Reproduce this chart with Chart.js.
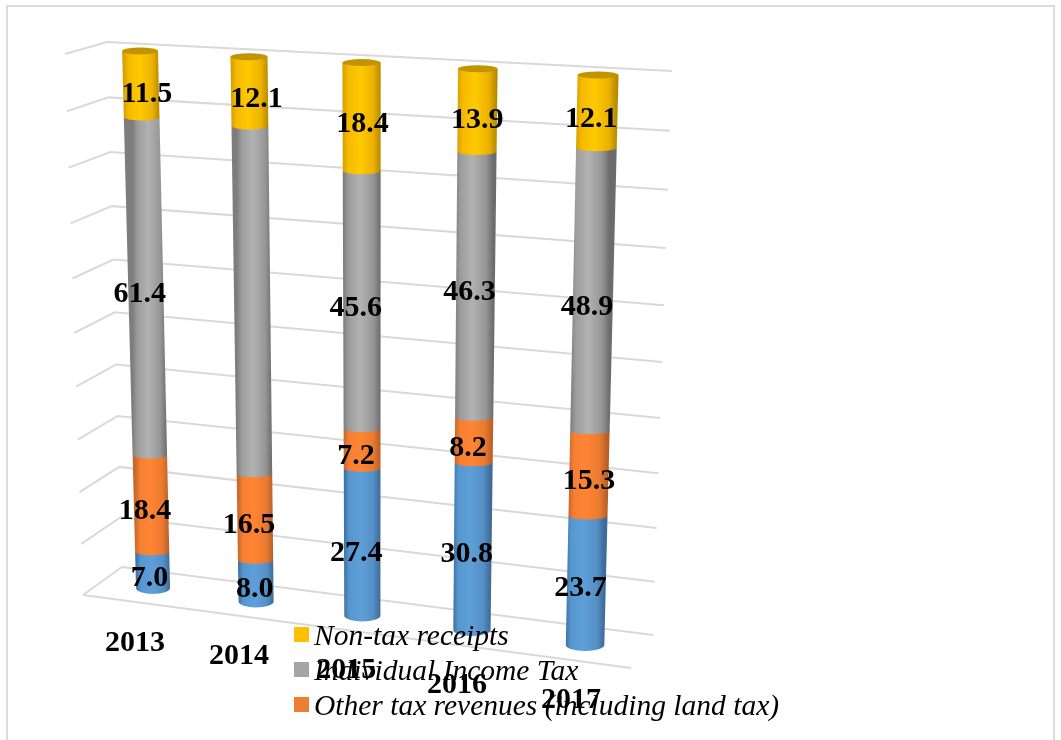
<!DOCTYPE html>
<html lang="en">
<head>
<meta charset="UTF-8" />
<title>Budget revenue structure</title>
<script src="https://cdn.jsdelivr.net/npm/chart.js"></script>
<style>
  * { margin: 0; padding: 0; box-sizing: border-box; }
  html, body { width: 1061px; height: 740px; overflow: hidden; background: #fff; }
  canvas { display: block; }
</style>
</head>
<body>
<canvas id="chart" width="1061" height="740"></canvas>
<script>
const years = ['2013', '2014', '2015', '2016', '2017'];
const otherIncome = [7.0, 8.0, 27.4, 30.8, 23.7];
const otherTax = [18.4, 16.5, 7.2, 8.2, 15.3];
const incomeTax = [61.4, 63.4, 45.6, 46.3, 48.9];
const nonTax = [11.5, 12.1, 18.4, 13.9, 12.1];
const seriesNames = ['Corporate income tax', 'Other tax revenues (including land tax)', 'Individual Income Tax', 'Non-tax receipts'];
const yTicksMax = 100;

const series = [otherIncome, otherTax, incomeTax, nonTax];
const totals = years.map((_, i) => series.reduce((s, a) => s + a[i], 0));

// colours: swatch, then gradient across the cylinder
const swatch = ['#5b9bd5', '#ed7d31', '#a5a5a5', '#ffc000'];
const shades = [
  ['#3f72a3', '#5797d0', '#5f9fd9', '#5590c6', '#3d6c98'],
  ['#c8682a', '#f57f33', '#ff8533', '#ea7a30', '#b55e26'],
  ['#7d7d7d', '#9c9c9c', '#b2b2b2', '#979797', '#6c6c6c'],
  ['#d6a200', '#f5b900', '#ffca00', '#ecb200', '#b58a00']
];
const capColor = '#c29400';
const gridColor = '#d9d9d9';
const serif = '"Liberation Serif", "Times New Roman", serif';

// per label nudge ("series,year"), the rest sit slightly left of the bar
const labelNudge = { '3,0': 6, '3,1': 7, '3,2': 1, '3,3': 0, '1,4': 0, '0,0': -3, '0,1': -1 };
const labelDrop = { '2,4': 10, '3,0': 2, '3,3': 2, '0,2': 3 };
const noLabel = ['2,1'];

// unit square -> quad, corners a(0,0) b(1,0) c(1,1) d(0,1)
function quadMap(a, b, c, d) {
  const dx1 = b[0] - c[0], dx2 = d[0] - c[0], sx = a[0] - b[0] + c[0] - d[0];
  const dy1 = b[1] - c[1], dy2 = d[1] - c[1], sy = a[1] - b[1] + c[1] - d[1];
  const den = dx1 * dy2 - dx2 * dy1;
  const g = (sx * dy2 - dx2 * sy) / den, h = (dx1 * sy - sx * dy1) / den;
  const A = b[0] - a[0] + g * b[0], B = d[0] - a[0] + h * d[0];
  const D = b[1] - a[1] + g * b[1], E = d[1] - a[1] + h * d[1];
  return (u, v) => {
    const w = g * u + h * v + 1;
    return [(A * u + B * v + a[0]) / w, (D * u + E * v + a[1]) / w];
  };
}

const wallPlane = quadMap([122, 567], [653, 635], [672, 71], [107, 42]);
const sidePlane = quadMap([83, 595], [122, 567], [107, 42], [65, 54]);
const barPlane = quadMap([153, 588], [585, 645], [598, 75], [140, 51]);

const perspective = {
  id: 'perspective',
  beforeDraw(chart) {
    const ctx = chart.ctx, y = chart.scales.y, area = chart.chartArea;
    const toV = px => (area.bottom - px) / (area.bottom - area.top);
    const toU = px => (px - area.left) / (area.right - area.left);
    const onBar = (px, py) => barPlane((toU(px) - 0.1) / 0.8, toV(py));

    ctx.save();
    // outer frame, runs off the bottom of the picture
    ctx.strokeStyle = '#dcdcdc';
    ctx.lineWidth = 2;
    ctx.strokeRect(7, 6, 1047, 760);

    // grid lines come from the value axis ticks
    ctx.strokeStyle = gridColor;
    ctx.lineWidth = 2;
    y.ticks.forEach(t => {
      const v = toV(y.getPixelForValue(t.value));
      const p0 = sidePlane(0, v), p1 = wallPlane(0, v), p2 = wallPlane(1, v);
      ctx.beginPath();
      ctx.moveTo(p0[0], p0[1]);
      ctx.lineTo(p1[0], p1[1]);
      ctx.lineTo(p2[0], p2[1]);
      ctx.stroke();
    });
    // front edge of the floor
    ctx.beginPath();
    ctx.moveTo(83, 595);
    ctx.lineTo(631, 668);
    ctx.stroke();

    // cylinders, bottom segment first so the next one covers the joint
    years.forEach((_, i) => {
      series.forEach((_, s) => {
        const el = chart.getDatasetMeta(s).data[i];
        const half = el.width / 2;
        const tl = onBar(el.x - half, el.y), tr = onBar(el.x + half, el.y);
        const bl = onBar(el.x - half, el.base), br = onBar(el.x + half, el.base);
        const tc = [(tl[0] + tr[0]) / 2, (tl[1] + tr[1]) / 2];
        const bc = [(bl[0] + br[0]) / 2, (bl[1] + br[1]) / 2];
        const trx = (tr[0] - tl[0]) / 2, brx = (br[0] - bl[0]) / 2;
        const grad = ctx.createLinearGradient(bc[0] - brx, 0, bc[0] + brx, 0);
        [0, 0.14, 0.45, 0.8, 1].forEach((st, k) => grad.addColorStop(st, shades[s][k]));
        const ry = s === 0 ? 6 : 3.5;
        ctx.fillStyle = grad;
        ctx.beginPath();
        ctx.moveTo(tc[0] + trx, tc[1]);
        ctx.lineTo(tc[0] - trx, tc[1]);
        ctx.lineTo(bc[0] - brx, bc[1]);
        ctx.ellipse(bc[0], bc[1], brx, ry, 0, Math.PI, 0, true);
        ctx.closePath();
        ctx.fill();
        if (s === series.length - 1) {
          ctx.fillStyle = capColor;
          ctx.beginPath();
          ctx.ellipse(tc[0], tc[1], trx, 3.5, 0, 0, Math.PI * 2);
          ctx.fill();
        }
      });
    });

    // legend, the first series falls below the picture so only three show
    ctx.textBaseline = 'middle';
    ctx.textAlign = 'left';
    ctx.font = 'italic 29.5px ' + serif;
    [3, 2, 1].forEach((s, k) => {
      const cy = 635 + k * 35;
      ctx.fillStyle = swatch[s];
      ctx.fillRect(294, cy - 8, 15, 15);
      ctx.fillStyle = '#000';
      ctx.fillText(seriesNames[s], 314, cy + 2);
    });

    // year labels under the bars
    ctx.font = 'bold 30px ' + serif;
    ctx.textAlign = 'center';
    ctx.fillStyle = '#000';
    const xs = chart.scales.x;
    years.forEach((yr, i) => {
      const p = barPlane((toU(xs.getPixelForValue(i)) - 0.1) / 0.8, 0);
      ctx.fillText(yr, p[0] - 18 + i, p[1] + 55);
    });

    // value labels, raw numbers from the arrays
    series.forEach((vals, s) => {
      chart.getDatasetMeta(s).data.forEach((el, i) => {
        const key = s + ',' + i;
        if (noLabel.includes(key)) return;
        const a = onBar(el.x, el.y), b = onBar(el.x, el.base);
        const nudge = labelNudge[key] ?? -6;
        ctx.fillText(vals[i].toFixed(1), (a[0] + b[0]) / 2 + nudge, (a[1] + b[1]) / 2 + 8 + (labelDrop[key] || 0));
      });
    });
    ctx.restore();
  },
  // the cylinders above replace the flat bars
  beforeDatasetsDraw() { return false; }
};

new Chart(document.getElementById('chart'), {
  type: 'bar',
  data: {
    labels: years,
    datasets: series.map((vals, s) => ({
      label: seriesNames[s],
      data: vals.map((v, i) => v / totals[i] * 100),
      backgroundColor: swatch[s]
    }))
  },
  options: {
    responsive: false,
    animation: false,
    events: [],
    categoryPercentage: 1,
    barPercentage: 0.335,
    layout: { padding: 0 },
    plugins: { legend: { display: false }, tooltip: { enabled: false } },
    scales: {
      x: { stacked: true, display: false },
      y: { stacked: true, display: false, min: 0, max: yTicksMax, ticks: { stepSize: 10 } }
    }
  },
  plugins: [perspective]
});
</script>
</body>
</html>
